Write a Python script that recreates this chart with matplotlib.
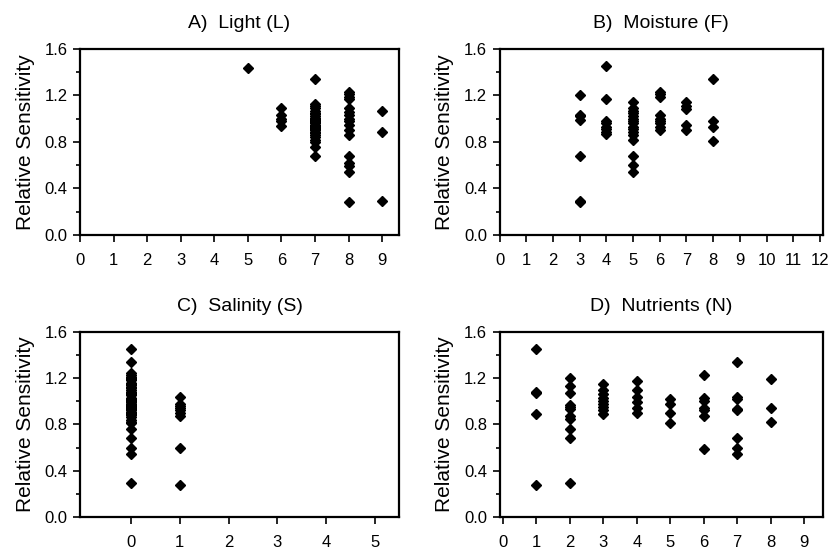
import matplotlib
matplotlib.use("Agg")
import matplotlib.pyplot as plt
from matplotlib.ticker import MultipleLocator

plt.rcParams['font.family'] = ['Liberation Sans', 'DejaVu Sans']

# Panel A - Light (L)
light_x = [5,
           6, 6, 6, 6, 6,
           7, 7, 7, 7, 7, 7, 7, 7, 7, 7, 7, 7, 7, 7, 7, 7, 7, 7, 7, 7, 7, 7, 7, 7, 7, 7, 7, 7,
           8, 8, 8, 8, 8, 8, 8, 8, 8, 8, 8, 8, 8, 8, 8, 8, 8,
           9, 9, 9]
light_y = [1.44,
           1.09, 1.03, 1.00, 0.98, 0.94,
           1.34, 1.13, 1.11, 1.09, 1.07, 1.05, 1.04, 1.02, 1.01, 1.00, 0.99, 0.98, 0.97, 0.96,
           0.95, 0.94, 0.93, 0.92, 0.91, 0.90, 0.89, 0.88, 0.86, 0.84, 0.82, 0.80, 0.76, 0.68,
           1.23, 1.21, 1.19, 1.17, 1.09, 1.06, 1.03, 1.00, 0.98, 0.95, 0.90, 0.86, 0.68, 0.62,
           0.59, 0.54, 0.28,
           1.07, 0.89, 0.29]

# Panel B - Moisture (F)
moist_x = [3, 3, 3, 3, 3, 3, 3,
           4, 4, 4, 4, 4, 4, 4, 4,
           5, 5, 5, 5, 5, 5, 5, 5, 5, 5, 5, 5, 5, 5, 5, 5,
           6, 6, 6, 6, 6, 6, 6, 6, 6,
           7, 7, 7, 7, 7,
           8, 8, 8, 8]
moist_y = [1.20, 1.03, 1.02, 0.99, 0.68, 0.29, 0.28,
           1.45, 1.17, 0.98, 0.96, 0.93, 0.91, 0.89, 0.87,
           1.14, 1.09, 1.07, 1.05, 1.02, 1.00, 0.98, 0.96, 0.93, 0.91, 0.89, 0.86, 0.82,
           0.68, 0.60, 0.54,
           1.23, 1.21, 1.19, 1.03, 1.00, 0.98, 0.96, 0.93, 0.90,
           1.14, 1.11, 1.08, 0.95, 0.90,
           1.34, 0.98, 0.93, 0.81]

# Panel C - Salinity (S)
sal_x = [0] * 44 + [1] * 9
sal_y = [1.45, 1.34, 1.24, 1.23, 1.21, 1.20, 1.19, 1.18, 1.16, 1.15, 1.14, 1.12, 1.11,
         1.10, 1.08, 1.07, 1.06, 1.05, 1.03, 1.02, 1.01, 1.00, 0.99, 0.98, 0.97, 0.96,
         0.95, 0.94, 0.93, 0.92, 0.91, 0.90, 0.89, 0.88, 0.86, 0.84, 0.82, 0.81,
         0.76, 0.68, 0.60, 0.54, 0.29, 0.98,
         1.04, 0.98, 0.96, 0.94, 0.92, 0.90, 0.87, 0.60, 0.28]

# Panel D - Nutrients (N)
nutr_x = [1, 1, 1, 1, 1,
          2, 2, 2, 2, 2, 2, 2, 2, 2, 2, 2,
          3, 3, 3, 3, 3, 3, 3, 3, 3,
          4, 4, 4, 4, 4, 4,
          5, 5, 5, 5,
          6, 6, 6, 6, 6, 6, 6,
          7, 7, 7, 7, 7, 7, 7, 7,
          8, 8, 8]
nutr_y = [1.45, 1.08, 1.07, 0.89, 0.28,
          1.20, 1.13, 1.07, 0.97, 0.95, 0.93, 0.87, 0.85, 0.76, 0.68, 0.29,
          1.15, 1.10, 1.06, 1.03, 1.00, 0.98, 0.95, 0.92, 0.89,
          1.17, 1.10, 1.04, 0.99, 0.94, 0.90,
          1.02, 0.98, 0.90, 0.81,
          1.23, 1.03, 1.00, 0.94, 0.92, 0.87, 0.59,
          1.34, 1.04, 1.02, 0.93, 0.92, 0.68, 0.60, 0.54,
          1.19, 0.94, 0.82]

panels = [
    ("A)  Light (L)", light_x, light_y, [0.0959, 0.5743, 0.3825, 0.3370], (0, 9.5), range(0, 10)),
    ("B)  Moisture (F)", moist_x, moist_y, [0.5990, 0.5743, 0.3873, 0.3370], (0, 12.1), range(0, 13)),
    ("C)  Salinity (S)", sal_x, sal_y, [0.0959, 0.0634, 0.3825, 0.3357], (-1.05, 5.5), range(0, 6)),
    ("D)  Nutrients (N)", nutr_x, nutr_y, [0.5990, 0.0634, 0.3873, 0.3357], (-0.1, 9.55), range(0, 10)),
]

fig = plt.figure(figsize=(8.34, 5.52), dpi=100)

for title, xs, ys, rect, xlim, xticks in panels:
    ax = fig.add_axes(rect)
    ax.plot(xs, ys, linestyle='none', marker='D', markersize=5.2, color='black')
    ax.set_xlim(*xlim)
    ax.set_ylim(0, 1.6)
    ax.set_xticks(list(xticks))
    ax.yaxis.set_major_locator(MultipleLocator(0.4))
    ax.yaxis.set_minor_locator(MultipleLocator(0.2))
    ax.yaxis.set_major_formatter(plt.FormatStrFormatter('%.1f'))
    ax.tick_params(axis='both', which='major', direction='out', length=5, width=1.2,
                   labelsize=12)
    ax.tick_params(axis='x', pad=8)
    ax.tick_params(axis='y', pad=4)
    ax.tick_params(axis='y', which='minor', direction='out', length=3, width=1.2)
    for sp in ax.spines.values():
        sp.set_linewidth(1.6)
    ax.set_title(title, fontsize=14, pad=15)
    ax.set_ylabel("Relative Sensitivity", fontsize=15, labelpad=7)

fig.savefig("out.png", dpi=100)
